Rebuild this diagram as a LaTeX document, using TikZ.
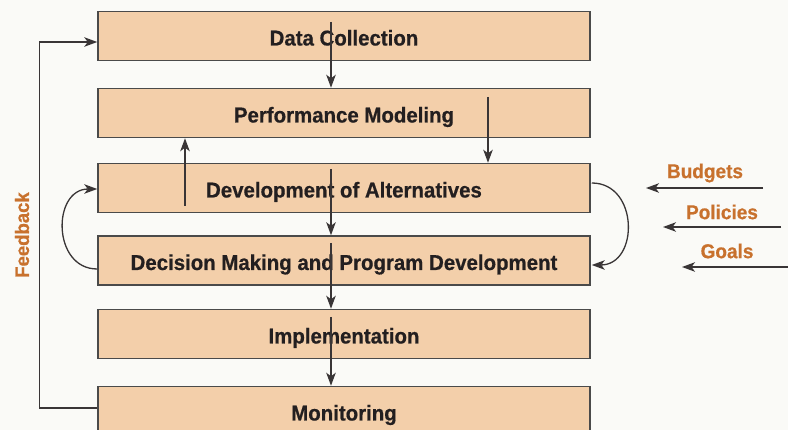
\documentclass[tikz,border=0pt]{standalone}
\usepackage{fontspec}
\setmainfont{Liberation Sans}[FakeStretch=0.95,BoldFeatures={FakeBold=0.6}]
\usetikzlibrary{arrows.meta}
\definecolor{bg}{HTML}{FAFAF7}
\definecolor{boxfill}{HTML}{F3CFAA}
\definecolor{boxline}{HTML}{4A4A4A}
\definecolor{ink}{HTML}{231F20}
\definecolor{accent}{HTML}{C8712D}
\begin{document}
\begin{tikzpicture}[x=1pt,y=-1pt,
  stage/.style={draw=boxline,line width=1.5pt,fill=boxfill,minimum width=492pt,
    minimum height=49pt,inner sep=0pt,text=ink,text height=19pt,text depth=0pt,
    font=\fontsize{21.5}{24}\selectfont\bfseries},
  lbl/.style={text=accent,font=\fontsize{20}{23}\selectfont\bfseries,inner sep=0pt},
  arr/.style={draw=ink!90,line width=1.3pt,-{Stealth[length=13pt,width=9.5pt,inset=3.5pt]}}]
  % page background and extent
  \fill[bg] (0,0) rectangle (788,430);
  \useasboundingbox (0,0) rectangle (788,430);

  % process stages
  \node[stage] (b1) at (344,36)  {Data Collection};
  \node[stage] (b2) at (344,113) {Performance Modeling};
  \node[stage] (b3) at (344,188) {Development of Alternatives};
  \node[stage] (b4) at (344,260.5) {Decision Making and Program Development};
  \node[stage] (b5) at (344,334) {Implementation};
  \node[stage] (b6) at (344,411) {Monitoring};

  % starting points of the flow lines inside the boxes
  \coordinate (s1) at (331,22);
  \coordinate (s3) at (331,169);
  \coordinate (s4) at (331,243);
  \coordinate (s5) at (331,317);
  \coordinate (up) at (185,206);
  \coordinate (dn) at (488,97);

  % main downward flow
  \draw[arr] (s1) -- (b2.north -| s1);
  \draw[arr] (s3) -- (b4.north -| s3);
  \draw[arr] (s4) -- (b5.north -| s4);
  \draw[arr] (s5) -- (b6.north -| s5);

  % loop between modeling and alternatives
  \draw[arr] (up) -- (b2.south -| up);
  \draw[arr] (dn) -- (b3.north -| dn);

  % loops between alternatives and decision making
  \draw[arr] ([yshift=-8.5pt]b4.west) .. controls (52,269) and (52,189) .. ([yshift=-1pt]b3.west);
  \draw[arr] ([yshift=5pt,xshift=1pt]b3.east) .. controls (639,183) and (639,265) .. ([yshift=-4.5pt,xshift=1pt]b4.east);

  % feedback path
  \draw[arr] ([yshift=3pt]b6.west) -- ++(-58,0) |- ([yshift=-6pt]b1.west);
  \node[lbl,rotate=90,font=\fontsize{19.5}{23}\selectfont\bfseries] (fb) at (22,235) {Feedback};

  % external inputs
  \node[lbl] (bud) at (705,173) {Budgets};
  \node[lbl] (pol) at (722,212) {Policies};
  \node[lbl] (goa) at (727,251) {Goals};
  \coordinate (bs) at (763,188);
  \coordinate (be) at (646,188);
  \coordinate (ps) at (781,227);
  \coordinate (pe) at (663,227);
  \coordinate (gs) at (790,267);
  \coordinate (ge) at (682,267);
  \draw[arr] (bs) -- (be);
  \draw[arr] (ps) -- (pe);
  \draw[arr] (gs) -- (ge);
\end{tikzpicture}
\end{document}
